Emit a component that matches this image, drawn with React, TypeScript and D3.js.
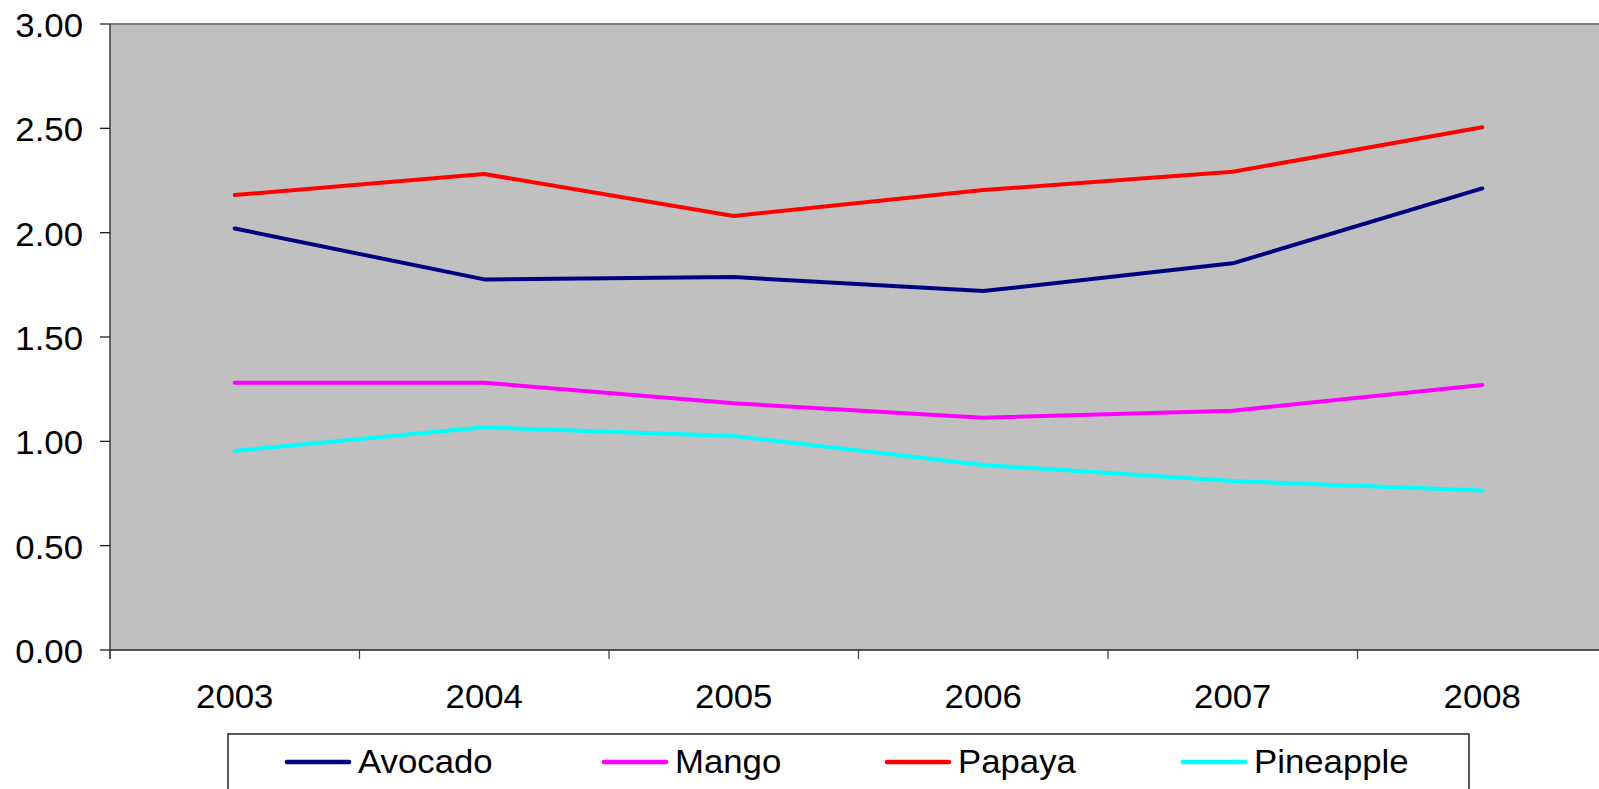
import React from "react";
import * as d3 from "d3";

const years = ["2003", "2004", "2005", "2006", "2007", "2008"];
const avocado = [2.02, 1.776, 1.787, 1.72, 1.853, 2.212];
const mango = [1.281, 1.281, 1.182, 1.113, 1.147, 1.27];
const papaya = [2.18, 2.281, 2.08, 2.204, 2.292, 2.505];
const pineapple = [0.954, 1.067, 1.026, 0.887, 0.81, 0.764];
const yTicks = [0, 0.5, 1, 1.5, 2, 2.5, 3];

const seriesNames = ["Avocado", "Mango", "Papaya", "Pineapple"];
const seriesColors = ["#000080", "#FF00FF", "#FF0000", "#00FFFF"];
const seriesValues = [avocado, mango, papaya, pineapple];

const W = 1599;
const H = 789;
const left = 110;
const top = 24;
const bottom = 650;
const band = 249.5;
const FONT = "'Liberation Sans', Arial, sans-serif";
const FS = 32.5;
const SX = 1.07;

export default function App() {
  const x = d3
    .scaleBand<string>()
    .domain(years)
    .range([left, left + band * years.length])
    .padding(0);
  const y = d3.scaleLinear().domain([0, 3]).range([bottom, top]);
  const cx = (yr: string) => (x(yr) as number) + x.bandwidth() / 2;
  const line = d3
    .line<number>()
    .x((_, i) => cx(years[i]))
    .y((v) => y(v));

  const legendXs = [287, 604, 887, 1183];

  return (
    <svg
      width={W}
      height={H}
      style={{ position: "absolute", left: 0, top: 0, background: "#fff" }}
    >
      <rect x={left} y={top} width={W - left + 10} height={bottom - top} fill="#C0C0C0" />
      <line x1={left} x2={W} y1={top} y2={top} stroke="#808080" strokeWidth={2} />

      {/* y axis */}
      <line x1={left} x2={left} y1={top} y2={bottom + 9} stroke="#222" strokeWidth={1.3} />
      {yTicks.map((t) => (
        <g key={t}>
          <line x1={left - 10} x2={left} y1={y(t)} y2={y(t)} stroke="#222" strokeWidth={1.3} />
          <text
            transform={`translate(${83},${y(t) + 13}) scale(${SX},1)`}
            textAnchor="end"
            fontFamily={FONT}
            fontSize={FS}
            fill="#000"
          >
            {t.toFixed(2)}
          </text>
        </g>
      ))}

      {/* x axis */}
      <line x1={left} x2={W} y1={bottom} y2={bottom} stroke="#222" strokeWidth={1.5} />
      {years.map((yr) => (
        <g key={yr}>
          <line
            x1={x(yr) as number}
            x2={x(yr) as number}
            y1={bottom}
            y2={bottom + 9}
            stroke="#444"
            strokeWidth={1.3}
          />
          <text
            transform={`translate(${cx(yr)},${707.5}) scale(${SX},1)`}
            textAnchor="middle"
            fontFamily={FONT}
            fontSize={FS}
            fill="#000"
          >
            {yr}
          </text>
        </g>
      ))}

      {/* series */}
      {seriesValues.map((vals, i) => (
        <path
          key={seriesNames[i]}
          d={line(vals) as string}
          fill="none"
          stroke={seriesColors[i]}
          strokeWidth={4}
          strokeLinecap="round"
          strokeLinejoin="round"
        />
      ))}

      {/* legend */}
      <rect x={228} y={734} width={1241} height={80} fill="#fff" stroke="#000" strokeWidth={1.3} />
      {seriesNames.map((name, i) => (
        <g key={name}>
          <line
            x1={legendXs[i]}
            x2={legendXs[i] + 62}
            y1={762}
            y2={762}
            stroke={seriesColors[i]}
            strokeWidth={4.5}
            strokeLinecap="round"
          />
          <text
            transform={`translate(${legendXs[i] + 71},${773.3}) scale(${SX},1)`}
            fontFamily={FONT}
            fontSize={FS}
            fill="#000"
          >
            {name}
          </text>
        </g>
      ))}
    </svg>
  );
}
